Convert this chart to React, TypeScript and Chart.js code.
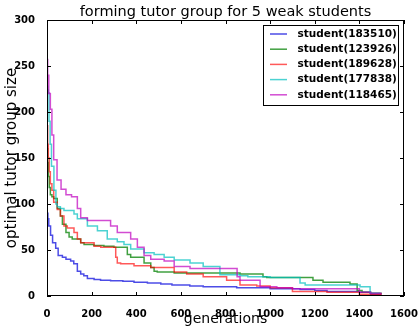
import React, { useEffect, useRef } from "react";
import { Chart, registerables } from "chart.js";

Chart.register(...registerables);

const titleText = "forming tutor group for 5 weak students";
const xTitle = "generations";
const yTitle = "optimal tutor group size";

const seriesNames = [
  "student(183510)",
  "student(123926)",
  "student(189628)",
  "student(177838)",
  "student(118465)",
];
const seriesColors = [
  "rgba(0,0,220,0.7)",
  "rgba(0,128,0,0.75)",
  "rgba(255,0,0,0.65)",
  "rgba(0,191,191,0.7)",
  "rgba(191,0,191,0.7)",
];

const xTicks = [0, 200, 400, 600, 800, 1000, 1200, 1400, 1600];
const yTicks = [0, 50, 100, 150, 200, 250, 300];

const blueGens = [0, 4, 8, 16, 25, 39, 50, 69, 85, 106, 120, 136, 151, 165, 181, 211, 240, 285, 340, 390, 450, 510, 560, 640, 700, 850, 1000, 1134, 1200, 1255, 1400, 1450, 1500];
const blueVals = [98, 90, 84, 76, 66, 58, 52, 44, 42, 40, 38, 35, 27, 24, 22, 19, 18, 17, 16.5, 16, 15, 14, 13, 12, 11, 10, 9, 8, 7, 6, 5, 4, 2];

const greenGens = [0, 3, 6, 10, 15, 22, 30, 46, 60, 69, 85, 99, 113, 151, 166, 210, 255, 300, 360, 375, 435, 465, 480, 494, 570, 865, 968, 985, 1192, 1237, 1358, 1390, 1412, 1450, 1500];
const greenVals = [175, 160, 145, 130, 118, 110, 108, 106, 95, 87, 78, 69, 64, 62, 58, 56, 55, 54, 53, 45, 42, 36, 31, 27, 26, 25, 24, 21, 20, 17, 15, 13, 6, 4, 3];

const redGens = [0, 3, 6, 10, 15, 22, 30, 46, 60, 76, 91, 121, 136, 151, 211, 241, 308, 315, 330, 390, 465, 570, 626, 700, 805, 865, 940, 1000, 1100, 1255, 1400, 1500];
const redVals = [200, 185, 165, 150, 135, 122, 115, 102, 94, 87, 76, 74, 69, 62, 58, 54, 53, 42, 36, 35, 33, 31, 26, 24, 21, 17, 12, 11, 9, 5, 4, 2];

const cyanGens = [0, 3, 6, 9, 14, 20, 31, 40, 46, 60, 76, 121, 136, 181, 226, 270, 315, 345, 375, 435, 480, 525, 570, 641, 700, 775, 865, 900, 1000, 1134, 1157, 1403, 1448, 1493];
const cyanVals = [235, 228, 224, 221, 190, 165, 141, 115, 100, 97, 95, 93, 89, 84, 76, 71, 62, 59, 56, 51, 47, 45, 42, 39, 36, 32, 23, 22, 21, 20, 14, 12, 10, 3];

const magentaGens = [0, 3, 8, 15, 22, 30, 45, 63, 85, 110, 136, 151, 181, 285, 315, 375, 405, 435, 465, 525, 570, 641, 852, 865, 955, 1030, 1100, 1400, 1450, 1500];
const magentaVals = [266, 257, 240, 220, 203, 175, 148, 126, 116, 110, 108, 95, 85, 82, 76, 69, 62, 53, 44, 40, 38, 32, 30, 21, 17, 10, 9, 8, 4, 3];

const allGens = [blueGens, greenGens, redGens, cyanGens, magentaGens];
const allVals = [blueVals, greenVals, redVals, cyanVals, magentaVals];

const FONT = "'DejaVu Sans', sans-serif";

const decorPlugin = {
  id: "decor",
  afterDraw(chart: any) {
    const { ctx, chartArea } = chart;
    const { left, right, top, bottom } = chartArea;
    const xs = chart.scales.x;
    const ys = chart.scales.y;
    ctx.save();
    ctx.strokeStyle = "#000";
    ctx.lineWidth = 1;
    ctx.strokeRect(left + 0.5, top + 0.5, right - left - 1, bottom - top - 1);
    ctx.beginPath();
    const tl = 4;
    xTicks.forEach((v) => {
      const px = Math.round(xs.getPixelForValue(v)) + 0.5;
      ctx.moveTo(px, bottom);
      ctx.lineTo(px, bottom - tl);
      ctx.moveTo(px, top);
      ctx.lineTo(px, top + tl);
    });
    yTicks.forEach((v) => {
      const py = Math.round(ys.getPixelForValue(v)) + 0.5;
      ctx.moveTo(left, py);
      ctx.lineTo(left + tl, py);
      ctx.moveTo(right, py);
      ctx.lineTo(right - tl, py);
    });
    ctx.stroke();
    ctx.fillStyle = "#000";
    ctx.textAlign = "center";
    ctx.textBaseline = "alphabetic";
    const cx = (left + right) / 2;
    ctx.font = `14.5px ${FONT}`;
    ctx.fillText(titleText, cx, 15.5);
    ctx.font = `14px ${FONT}`;
    ctx.fillText(xTitle, cx, 322.5);
    ctx.save();
    ctx.font = `15px ${FONT}`;
    ctx.translate(16, (top + bottom) / 2);
    ctx.rotate(-Math.PI / 2);
    ctx.fillText(yTitle, 0, 0);
    ctx.restore();
    const bx = 263.5, by = 25.5, bw = 135, bh = 80;
    ctx.fillStyle = "#fff";
    ctx.fillRect(bx, by, bw, bh);
    ctx.strokeStyle = "#000";
    ctx.lineWidth = 1;
    ctx.strokeRect(bx, by, bw, bh);
    ctx.font = `bold 10.5px ${FONT}`;
    ctx.textAlign = "left";
    ctx.textBaseline = "middle";
    seriesNames.forEach((name, i) => {
      const ry = 34 + i * 15.2;
      ctx.strokeStyle = seriesColors[i];
      ctx.lineWidth = 1.5;
      ctx.beginPath();
      ctx.moveTo(270, ry);
      ctx.lineTo(287, ry);
      ctx.stroke();
      ctx.fillStyle = "#000";
      ctx.fillText(name, 297.5, ry);
    });
    ctx.restore();
  },
};

export default function App() {
  const ref = useRef<HTMLCanvasElement | null>(null);
  useEffect(() => {
    document.body.style.margin = "0";
    if (!ref.current) return;
    const datasets = seriesNames.map((name, i) => ({
      label: name,
      data: allGens[i].map((g, j) => ({ x: g, y: allVals[i][j] })),
      borderColor: seriesColors[i],
      backgroundColor: seriesColors[i],
      borderWidth: 1.5,
      pointRadius: 0,
      stepped: "after" as const,
      fill: false,
      order: 5 - i,
    }));
    const chart = new Chart(ref.current, {
      type: "line",
      data: { datasets },
      plugins: [decorPlugin],
      options: {
        animation: false,
        responsive: true,
        maintainAspectRatio: false,
        layout: { padding: { top: 20, right: 14, left: 0, bottom: 0 } },
        plugins: {
          legend: { display: false },
          title: { display: false },
          tooltip: { enabled: false },
        },
        scales: {
          x: {
            type: "linear",
            min: 0,
            max: 1600,
            grid: { display: false },
            border: { display: false },
            afterFit: (s: any) => {
              s.height = 35;
              s.paddingRight = 0;
              s.paddingLeft = 0;
            },
            afterBuildTicks: (s: any) => {
              s.ticks = xTicks.map((v) => ({ value: v }));
            },
            ticks: {
              autoSkip: false,
              maxRotation: 0,
              padding: 4,
              color: "#000",
              font: { family: FONT, size: 10, weight: "bold" },
              callback: (v: any) => String(v),
            },
          },
          y: {
            type: "linear",
            min: 0,
            max: 300,
            grid: { display: false },
            border: { display: false },
            afterFit: (s: any) => {
              s.width = 47;
              s.paddingTop = 0;
              s.paddingBottom = 0;
            },
            afterBuildTicks: (s: any) => {
              s.ticks = yTicks.map((v) => ({ value: v }));
            },
            ticks: {
              autoSkip: false,
              padding: 4,
              color: "#000",
              font: { family: FONT, size: 10, weight: "bold" },
              callback: (v: any) => String(v),
            },
          },
        },
      },
    });
    return () => chart.destroy();
  }, []);
  return (
    <div style={{ position: "absolute", left: 0, top: 0, width: 418, height: 331, background: "#fff" }}>
      <canvas ref={ref} />
    </div>
  );
}
